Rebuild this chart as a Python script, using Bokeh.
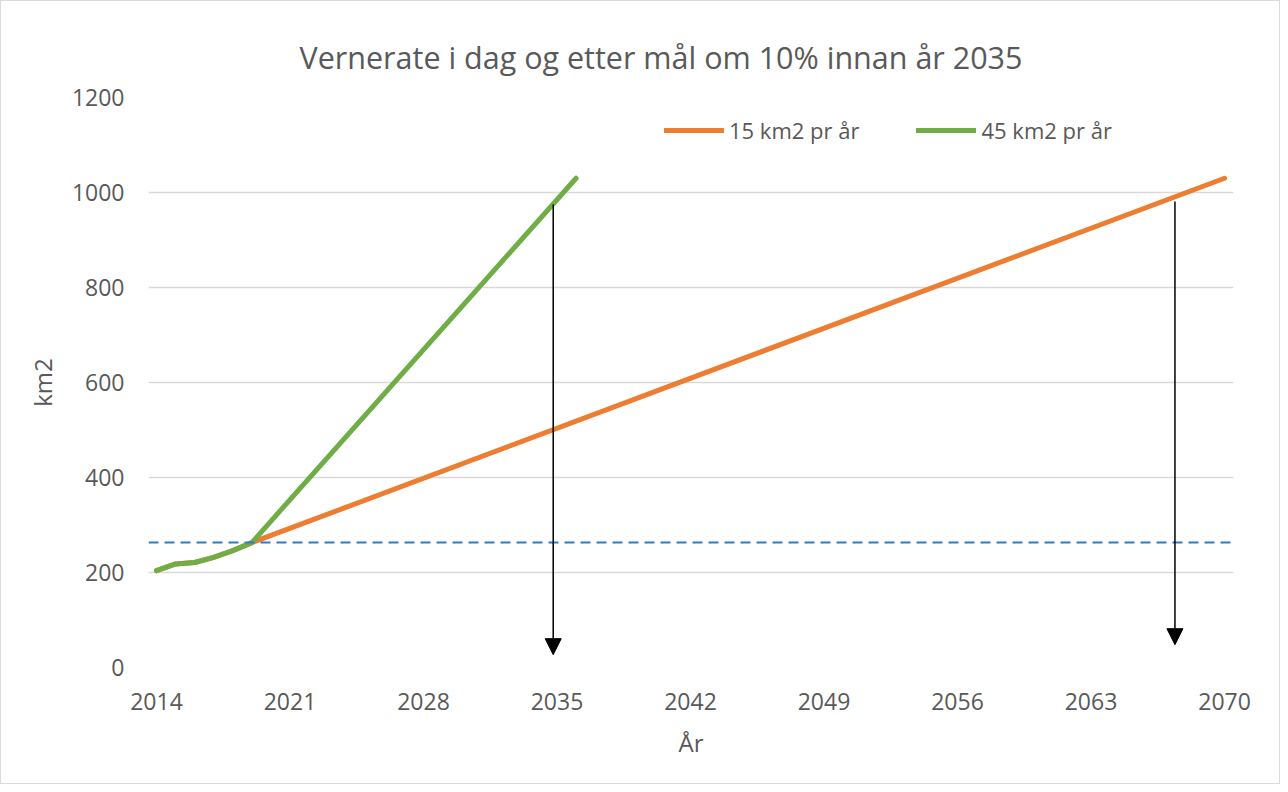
from bokeh.plotting import figure
from bokeh.models import Range1d, FixedTicker, Span, Arrow, NormalHead, Legend, LegendItem
from bokeh.embed import file_html
from bokeh.resources import INLINE

# ---- data ----
title_text = "Vernerate i dag og etter mål om 10% innan år 2035"
x_label = "År"
y_label = "km2"
x_ticks = [2014, 2021, 2028, 2035, 2042, 2049, 2056, 2063, 2070]
y_ticks = [0, 200, 400, 600, 800, 1000, 1200]

orange_name = "15 km2 pr år"
orange_years = [2014, 2015, 2016, 2017, 2018, 2019, 2070]
orange_values = [204, 218, 221, 232, 246, 263, 1030]

green_name = "45 km2 pr år"
green_years = [2014, 2015, 2016, 2017, 2018, 2019, 2036]
green_values = [204, 218, 221, 232, 246, 263, 1030]

current_level = 263  # dashed reference line

arrow_years = [2034.8, 2067.4]
arrow_top = [975, 981]
arrow_bottom = [27, 48]

TXT = "#595959"
FONT = "Open Sans"

p = figure(width=1280, height=784, output_backend="svg", toolbar_location=None,
           x_range=Range1d(2013.58, 2070.47), y_range=Range1d(0, 1200),
           min_border_left=147, min_border_right=48, min_border_top=96, min_border_bottom=118,
           styles={"border": "1px solid #d9d9d9"},
           title=title_text)

p.title.align = "left"
p.title.offset = 151
p.title.text_font = FONT
p.title.text_font_size = "30.5px"
p.title.text_font_style = "normal"
p.title.text_color = TXT
p.title.standoff = 39

p.outline_line_color = None
p.background_fill_color = "white"
p.border_fill_color = "white"
p.xgrid.grid_line_color = None
p.ygrid.grid_line_color = "#d9d9d9"
p.ygrid.grid_line_width = 1.3

for ax in (p.xaxis[0], p.yaxis[0]):
    ax.axis_line_color = None
    ax.major_tick_line_color = None
    ax.minor_tick_line_color = None
    ax.major_label_text_font = FONT
    ax.major_label_text_font_size = "23px"
    ax.major_label_text_color = TXT
    ax.axis_label_text_font = FONT
    ax.axis_label_text_font_size = "24px"
    ax.axis_label_text_font_style = "normal"
    ax.axis_label_text_color = TXT

p.xaxis.ticker = FixedTicker(ticks=x_ticks)
p.yaxis.ticker = FixedTicker(ticks=y_ticks)
p.xaxis.axis_label = x_label
p.yaxis.axis_label = y_label
p.xaxis.major_label_standoff = 19
p.yaxis.major_label_standoff = 18
p.xaxis.axis_label_standoff = 13
p.yaxis.axis_label_standoff = 10

span = Span(location=current_level, dimension="width", line_color="#2A7BD6",
            line_width=2, line_dash="10 6")
p.add_layout(span)

r_orange = p.line(orange_years, orange_values, line_color="#ED7D31", line_width=5, line_cap="round", line_join="round")
r_green = p.line(green_years, green_values, line_color="#70AD47", line_width=5, line_cap="round", line_join="round")

for xa, yt, yb in zip(arrow_years, arrow_top, arrow_bottom):
    p.add_layout(Arrow(end=NormalHead(size=16, fill_color="black", line_color="black"),
                       x_start=xa, y_start=yt, x_end=xa, y_end=yb,
                       line_color="black", line_width=1.5))

legend = Legend(items=[LegendItem(label=orange_name, renderers=[r_orange]),
                       LegendItem(label=green_name, renderers=[r_green])],
                location=(516, 522), orientation="horizontal")
legend.glyph_width = 60
legend.glyph_height = 20
legend.label_standoff = 5
legend.spacing = 57
legend.padding = 0
legend.margin = 0
legend.border_line_color = None
legend.background_fill_alpha = 0
legend.label_text_font = FONT
legend.label_text_font_size = "22px"
legend.label_text_color = TXT
p.add_layout(legend)

open("out.html", "w").write(file_html(p, INLINE))
